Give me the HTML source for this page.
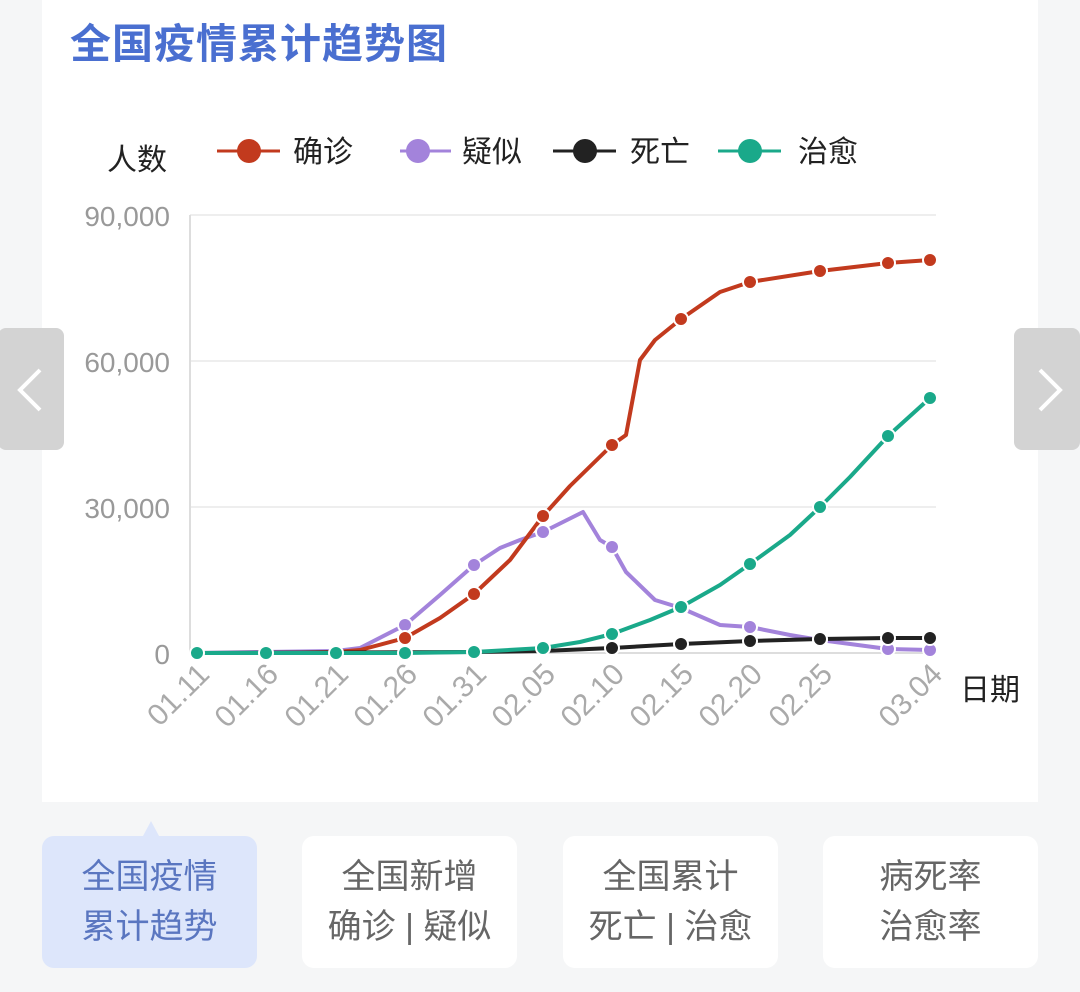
<!DOCTYPE html>
<html><head><meta charset="utf-8"><style>
body{margin:0;width:1080px;height:992px;background:#f5f6f7;font-family:"Liberation Sans","Noto Sans CJK SC",sans-serif;overflow:hidden;position:relative}
.card{position:absolute;left:42px;top:0;width:996px;height:802px;background:#fff}
.title{position:absolute;left:70px;top:10px;font-size:41px;color:#4a6fd0;font-weight:bold;letter-spacing:1px}
.tab{position:absolute;top:836px;width:215px;height:132px;background:#fff;border-radius:12px;color:#666;font-size:34px;line-height:50px;text-align:center;display:flex;align-items:center;justify-content:center}
.tab.on{background:#dde6fb;color:#5a76c0}
.arrow{position:absolute;top:328px;width:66px;height:122px;background:#d3d3d3;border-radius:8px}
</style></head><body>
<div class="card"></div>
<div class="title">全国疫情累计趋势图</div>
<div class="arrow" style="left:-2px"></div>
<div class="arrow" style="left:1014px"></div>
<svg width="1080" height="992" style="position:absolute;left:0;top:0" font-family="Liberation Sans, Noto Sans CJK SC, sans-serif">
<polyline points="40,370 20,390 40,410" fill="none" stroke="#fff" stroke-width="4"/>
<polyline points="1040,370 1060,390 1040,410" fill="none" stroke="#fff" stroke-width="4"/>
<text x="107" y="170" font-size="30" fill="#222">人数</text>
<g stroke-width="3">
<line x1="217" y1="151" x2="280" y2="151" stroke="#c23a1e"/><circle cx="249" cy="151" r="12" fill="#c23a1e"/>
<line x1="400" y1="151" x2="451" y2="151" stroke="#a383db"/><circle cx="418" cy="151" r="12" fill="#a383db"/>
<line x1="553" y1="151" x2="616" y2="151" stroke="#222"/><circle cx="585" cy="151" r="12" fill="#222"/>
<line x1="718" y1="151" x2="781" y2="151" stroke="#1aa98a"/><circle cx="750" cy="151" r="12" fill="#1aa98a"/>
</g>
<g font-size="30" fill="#222"><text x="293" y="162">确诊</text><text x="462" y="162">疑似</text><text x="630" y="162">死亡</text><text x="798" y="162">治愈</text></g>
<g stroke="#eee" stroke-width="2"><line x1="190" y1="215" x2="936" y2="215"/><line x1="190" y1="361" x2="936" y2="361"/><line x1="190" y1="507" x2="936" y2="507"/></g>
<line x1="190" y1="215" x2="190" y2="653" stroke="#ddd" stroke-width="2"/>
<line x1="190" y1="653" x2="936" y2="653" stroke="#ddd" stroke-width="2"/>
<g font-size="28" fill="#999" text-anchor="end"><text x="170" y="226">90,000</text><text x="170" y="372">60,000</text><text x="170" y="518">30,000</text><text x="170" y="664">0</text></g>
<g font-size="30" fill="#aaa" text-anchor="end">
<text transform="translate(211,676) rotate(-45)">01.11</text>
<text transform="translate(280,676) rotate(-45)">01.16</text>
<text transform="translate(350,676) rotate(-45)">01.21</text>
<text transform="translate(419,676) rotate(-45)">01.26</text>
<text transform="translate(488,676) rotate(-45)">01.31</text>
<text transform="translate(557,676) rotate(-45)">02.05</text>
<text transform="translate(626,676) rotate(-45)">02.10</text>
<text transform="translate(695,676) rotate(-45)">02.15</text>
<text transform="translate(764,676) rotate(-45)">02.20</text>
<text transform="translate(834,676) rotate(-45)">02.25</text>
<text transform="translate(944,676) rotate(-45)">03.04</text>
</g>
<text x="960" y="700" font-size="30" fill="#222">日期</text>
<g fill="none" stroke-width="4" stroke-linejoin="round">
<polyline stroke="#a383db" points="197,653 336,651 360,648 405,625 440,595 474,565 500,548 520,540 543,532 583,512 600,540 612,547 626,572 655,600 681,608 720,625 750,627 790,635 820,640 888,649 930,650"/>
<polyline stroke="#c23a1e" points="197,653 266,653 336,652 360,650 405,638 440,618 474,594 510,560 543,516 570,486 612,445 626,435 640,360 655,340 681,319 720,292 750,282 820,271 888,263 930,260"/>
<polyline stroke="#222" points="197,653 474,652 543,651 612,648 681,644 750,641 820,639 888,638 930,638"/>
<polyline stroke="#1aa98a" points="197,653 405,653 474,652 543,648 580,642 612,634 650,620 681,607 720,585 750,564 790,535 820,507 850,477 888,436 930,398"/>
</g>
<g fill="#a383db" stroke="#fff" stroke-width="2"><circle cx="405" cy="625" r="7"/><circle cx="474" cy="565" r="7"/><circle cx="543" cy="532" r="7"/><circle cx="612" cy="547" r="7"/><circle cx="681" cy="608" r="7"/><circle cx="750" cy="627" r="7"/><circle cx="820" cy="640" r="7"/><circle cx="888" cy="649" r="7"/><circle cx="930" cy="650" r="7"/></g>
<g fill="#c23a1e" stroke="#fff" stroke-width="2"><circle cx="405" cy="638" r="7"/><circle cx="474" cy="594" r="7"/><circle cx="543" cy="516" r="7"/><circle cx="612" cy="445" r="7"/><circle cx="681" cy="319" r="7"/><circle cx="750" cy="282" r="7"/><circle cx="820" cy="271" r="7"/><circle cx="888" cy="263" r="7"/><circle cx="930" cy="260" r="7"/></g>
<g fill="#222" stroke="#fff" stroke-width="2"><circle cx="612" cy="648" r="7"/><circle cx="681" cy="644" r="7"/><circle cx="750" cy="641" r="7"/><circle cx="820" cy="639" r="7"/><circle cx="888" cy="638" r="7"/><circle cx="930" cy="638" r="7"/></g>
<g fill="#1aa98a" stroke="#fff" stroke-width="2"><circle cx="197" cy="653" r="7"/><circle cx="266" cy="653" r="7"/><circle cx="336" cy="653" r="7"/><circle cx="405" cy="653" r="7"/><circle cx="474" cy="652" r="7"/><circle cx="543" cy="648" r="7"/><circle cx="612" cy="634" r="7"/><circle cx="681" cy="607" r="7"/><circle cx="750" cy="564" r="7"/><circle cx="820" cy="507" r="7"/><circle cx="888" cy="436" r="7"/><circle cx="930" cy="398" r="7"/></g>
<polygon points="143,836 151,821 159,836" fill="#dde6fb"/>
</svg>
<div class="tab on" style="left:42px">全国疫情<br>累计趋势</div>
<div class="tab" style="left:302px">全国新增<br>确诊 | 疑似</div>
<div class="tab" style="left:563px">全国累计<br>死亡 | 治愈</div>
<div class="tab" style="left:823px">病死率<br>治愈率</div>
</body></html>
